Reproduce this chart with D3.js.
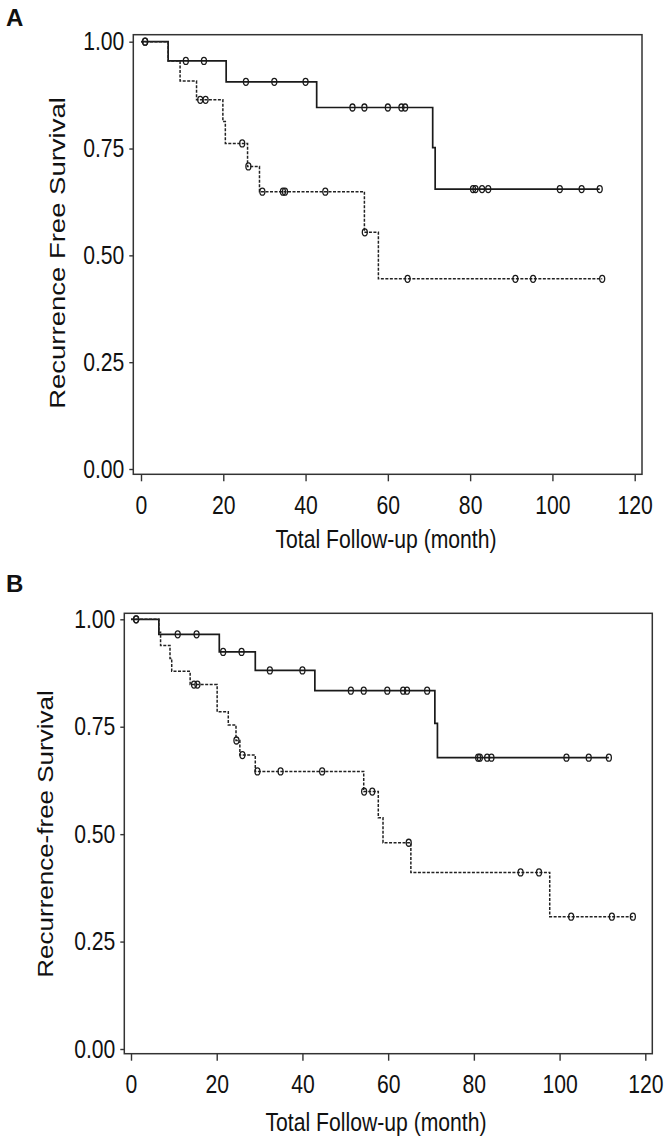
<!DOCTYPE html>
<html>
<head>
<meta charset="utf-8">
<script src="https://cdn.jsdelivr.net/npm/d3@7"></script>
<style>
  html, body { margin: 0; padding: 0; background: #fff; }
  svg { display: block; }
  text { font-family: "Liberation Sans", Arial, sans-serif; fill: #111; }
</style>
</head>
<body>
<svg id="chart" width="672" height="1144"></svg>
<script>
// ---------------- DATA ----------------
const xTicks = [0, 20, 40, 60, 80, 100, 120];
const yTicks = [0, 0.25, 0.5, 0.75, 1.0];

// Panel A – solid group
const aSolidTimes = [6.6, 20.7, 42.7, 70.9, 71.5];
const aSolidSurv = [0.955, 0.906, 0.846, 0.752, 0.655];
const aSolidCensor = [1.0, 10.9, 15.3, 25.5, 32.4, 40.0, 51.4, 54.3, 60.0, 63.3, 64.2, 80.7, 81.3, 82.9, 84.4, 101.8, 107.1, 111.5];

// Panel A – dashed group
const aDashTimes = [6.6, 9.5, 13.5, 19.9, 20.5, 25.9, 28.8, 54.3, 57.7];
const aDashSurv = [0.955, 0.908, 0.864, 0.813, 0.762, 0.708, 0.649, 0.554, 0.445];
const aDashCensor = [1.0, 14.4, 15.7, 24.6, 26.1, 29.5, 34.5, 35.0, 44.8, 54.4, 64.8, 91.0, 95.3, 112.1];

// Panel B – solid group
const bSolidTimes = [6.5, 20.6, 29.0, 42.9, 70.9, 71.5];
const bSolidSurv = [0.965, 0.924, 0.881, 0.834, 0.758, 0.678];
const bSolidCensor = [1.2, 10.9, 15.3, 21.5, 25.8, 32.4, 40.0, 51.3, 54.3, 59.8, 63.5, 64.4, 69.1, 81.0, 81.4, 83.1, 84.1, 101.6, 106.8, 111.5];

// Panel B – dashed group
const bDashTimes = [6.5, 6.9, 9.1, 9.5, 13.8, 20.1, 22.7, 24.5, 25.4, 29.0, 54.3, 57.7, 58.8, 65.3, 97.7];
const bDashSurv = [0.970, 0.939, 0.909, 0.879, 0.848, 0.785, 0.754, 0.718, 0.684, 0.646, 0.599, 0.538, 0.480, 0.411, 0.308];
const bDashCensor = [1.2, 14.7, 15.5, 24.6, 26.0, 29.5, 34.9, 44.6, 54.4, 56.3, 64.8, 90.9, 95.2, 102.7, 112.2, 117.1];

// ---------------- LAYOUT ----------------
const panels = [
  {
    letter: "A", letterX: 6, letterY: 26,
    frame: {x0: 133.3, x1: 642, y0: 34.7, y1: 474.3},
    xRange: [141, 634.7], yRange: [469, 41.7],
    yTitle: "Recurrence Free Survival", yTitleX: 57, yTitleY: 253, yTitleFS: 27.5,
    xTitle: "Total Follow-up (month)", xTitleX: 386, xTitleY: 548,
    xPad: 15, yPad: 5,
    curves: [
      {times: aSolidTimes, surv: aSolidSurv, censor: aSolidCensor, dashed: false},
      {times: aDashTimes, surv: aDashSurv, censor: aDashCensor, dashed: true}
    ]
  },
  {
    letter: "B", letterX: 6, letterY: 592,
    frame: {x0: 124.3, x1: 652.3, y0: 613.3, y1: 1053.7},
    xRange: [131, 645.3], yRange: [1049, 619.3],
    yTitle: "Recurrence-free Survival", yTitleX: 45, yTitleY: 834, yTitleFS: 26,
    xTitle: "Total Follow-up (month)", xTitleX: 376, xTitleY: 1131,
    xPad: 14, yPad: 5,
    curves: [
      {times: bSolidTimes, surv: bSolidSurv, censor: bSolidCensor, dashed: false},
      {times: bDashTimes, surv: bDashSurv, censor: bDashCensor, dashed: true}
    ]
  }
];

const svg = d3.select("#chart");
const SX = 0.83;      // horizontal compression of the original lettering
const FS = 25.5;      // font size

panels.forEach(p => {
  const g = svg.append("g");
  const x = d3.scaleLinear().domain([0, 120]).range(p.xRange);
  const y = d3.scaleLinear().domain([0, 1]).range(p.yRange);

  // panel letter
  g.append("text")
    .attr("x", p.letterX).attr("y", p.letterY)
    .attr("font-size", 24).attr("font-weight", "bold")
    .attr("font-family", "'Open Sans', 'DejaVu Sans', sans-serif")
    .attr("fill", "#000")
    .text(p.letter);

  // frame
  g.append("rect")
    .attr("x", p.frame.x0).attr("y", p.frame.y0)
    .attr("width", p.frame.x1 - p.frame.x0)
    .attr("height", p.frame.y1 - p.frame.y0)
    .attr("fill", "none").attr("stroke", "#333").attr("stroke-width", 1.5);

  // x axis
  const xAxis = g.append("g")
    .attr("transform", `translate(0,${p.frame.y1})`)
    .call(d3.axisBottom(x).tickValues(xTicks).tickSize(7).tickPadding(p.xPad).tickFormat(d3.format("d")));
  xAxis.select(".domain").remove();
  xAxis.selectAll(".tick line").attr("stroke", "#333").attr("stroke-width", 1.4);
  xAxis.selectAll(".tick text")
    .attr("font-size", FS).attr("font-family", "'Liberation Sans', Arial, sans-serif")
    .attr("fill", "#111")
    .attr("transform", `scale(${SX},1)`);

  // y axis
  const yAxis = g.append("g")
    .attr("transform", `translate(${p.frame.x0},0)`)
    .call(d3.axisLeft(y).tickValues(yTicks).tickSize(4).tickPadding(p.yPad).tickFormat(d3.format(".2f")));
  yAxis.select(".domain").remove();
  yAxis.selectAll(".tick line").attr("stroke", "#333").attr("stroke-width", 1.4);
  yAxis.selectAll(".tick text")
    .attr("font-size", FS).attr("font-family", "'Liberation Sans', Arial, sans-serif")
    .attr("fill", "#111")
    .attr("x", -(4 + p.yPad) / SX)
    .attr("transform", `scale(${SX},1)`);

  // titles
  g.append("text")
    .attr("transform", `translate(${p.xTitleX},${p.xTitleY}) scale(${SX},1)`)
    .attr("text-anchor", "middle").attr("font-size", FS)
    .text(p.xTitle);
  g.append("text")
    .attr("transform", `translate(${p.yTitleX},${p.yTitleY}) rotate(-90) scale(1,${SX})`)
    .attr("text-anchor", "middle").attr("dominant-baseline", "central").attr("font-size", p.yTitleFS)
    .text(p.yTitle);

  // curves
  const line = d3.line().x(d => x(d[0])).y(d => y(d[1])).curve(d3.curveStepAfter);
  p.curves.forEach(c => {
    const tEnd = d3.max(c.censor.concat(c.times));
    const pts = [[0, 1]];
    c.times.forEach((t, i) => pts.push([t, c.surv[i]]));
    pts.push([tEnd, c.surv[c.surv.length - 1]]);
    g.append("path")
      .attr("d", line(pts))
      .attr("fill", "none")
      .attr("stroke", c.dashed ? "#222" : "#1a1a1a")
      .attr("stroke-width", c.dashed ? 1.5 : 1.7)
      .attr("stroke-dasharray", c.dashed ? "3,1.5" : null);

    const survAt = t => {
      let s = 1;
      c.times.forEach((tt, i) => { if (tt <= t) s = c.surv[i]; });
      return s;
    };
    g.selectAll(null).data(c.censor).enter().append("ellipse")
      .attr("cx", d => x(d)).attr("cy", d => y(survAt(d)))
      .attr("rx", 2.5).attr("ry", 3.5)
      .attr("fill", "none").attr("stroke", "#1a1a1a").attr("stroke-width", 1.3);
  });
});
</script>
</body>
</html>
